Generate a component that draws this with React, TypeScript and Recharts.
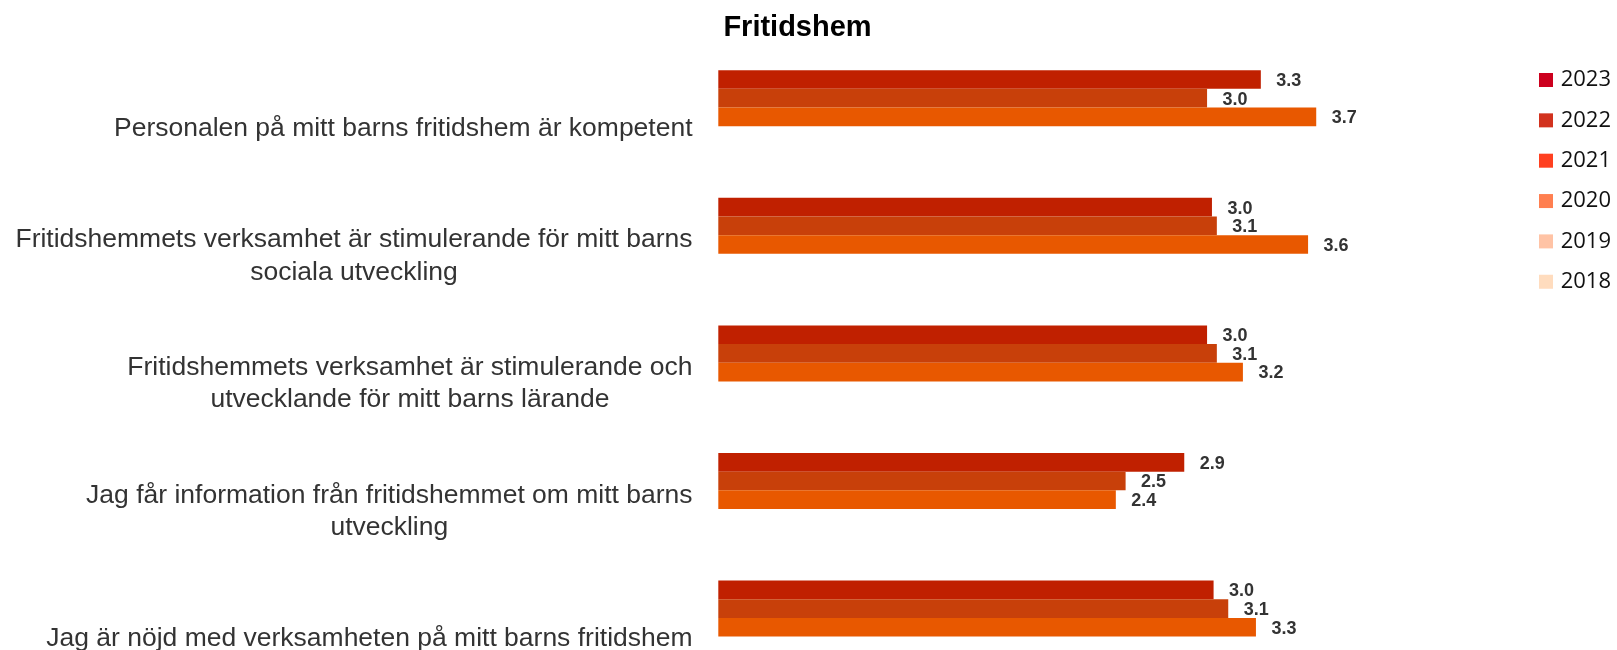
import React from 'react';
import { BarChart, Bar, XAxis, YAxis, LabelList } from 'recharts';

const TITLE = 'Fritidshem';
const CATEGORIES = [
  'Personalen på mitt barns fritidshem är kompetent',
  'Fritidshemmets verksamhet är stimulerande för mitt barns\nsociala utveckling',
  'Fritidshemmets verksamhet är stimulerande och\nutvecklande för mitt barns lärande',
  'Jag får information från fritidshemmet om mitt barns\nutveckling',
  'Jag är nöjd med verksamheten på mitt barns fritidshem',
];
const SERIES = ['2023', '2022', '2021', '2020', '2019', '2018'];
const V2023 = [3.33, 3.03, 3.0, 2.86, 3.04];
const V2022 = [3.0, 3.06, 3.06, 2.5, 3.13];
const V2021 = [3.67, 3.62, 3.22, 2.44, 3.3];
const V2020: (number | null)[] = [null, null, null, null, null];
const V2019: (number | null)[] = [null, null, null, null, null];
const V2018: (number | null)[] = [null, null, null, null, null];
const X_DOMAIN = [0, 4];

const BAR_COLORS = ['#C02000', '#C8400A', '#E85800', '#FF7F50', '#FFC0A0', '#FFD8B8'];
const LEGEND_COLORS = ['#CC001E', '#D2321E', '#FF4020', '#FF7F50', '#FFC3A5', '#FFDCBE'];

const VALUES = [V2023, V2022, V2021, V2020, V2019, V2018];
const data = CATEGORIES.map((name, i) => {
  const row: Record<string, any> = { name };
  SERIES.forEach((s, k) => {
    row[s] = VALUES[k][i];
  });
  return row;
});

const LABEL_SIZE = 26.5;
const LABEL_FONT = `${LABEL_SIZE}px "Liberation Sans"`;
const LABEL_RIGHT = 684.7;
let ctx: CanvasRenderingContext2D | null = null;
function measure(t: string): number {
  if (!ctx) {
    const c = document.createElement('canvas');
    ctx = c.getContext('2d');
  }
  if (!ctx) return t.length * 13;
  ctx.font = LABEL_FONT;
  return ctx.measureText(t).width;
}

function CategoryTick(props: any) {
  const { y, payload } = props;
  const lines = String(payload.value).split('\n');
  const maxW = Math.max(...lines.map(measure));
  const cx = LABEL_RIGHT - maxW / 2;
  const lh = 32.5;
  const first = y - ((lines.length - 1) * lh) / 2 + 10;
  return (
    <text
      textAnchor="middle"
      fontFamily="Liberation Sans, Arial, sans-serif"
      fontSize={LABEL_SIZE}
      fill="#333333"
    >
      {lines.map((l, i) => (
        <tspan key={i} x={cx} y={first + i * lh}>
          {l}
        </tspan>
      ))}
    </text>
  );
}

const fmt = (v: any) => (v == null ? '' : Number(v).toFixed(1));

export default function App() {
  return (
    <div
      style={{
        position: 'fixed',
        left: 8,
        top: 8,
        width: 1609,
        height: 642,
        overflow: 'hidden',
      }}
    >
      <BarChart
        width={1601}
        height={692.2}
        data={data}
        layout="vertical"
        margin={{ top: 54.2, right: 239, bottom: 0, left: 0 }}
        barGap={0}
        barSize={18.67}
      >
        <XAxis type="number" domain={X_DOMAIN} hide />
        <YAxis
          type="category"
          dataKey="name"
          width={710.3}
          axisLine={false}
          tickLine={false}
          tick={<CategoryTick />}
          interval={0}
        />
        {SERIES.map((s, k) => (
          <Bar key={s} dataKey={s} fill={BAR_COLORS[k]} barSize={18.67} isAnimationActive={false}>
            {k < 3 ? (
              <LabelList
                dataKey={s}
                position="right"
                offset={15.5}
                formatter={fmt}
                fill="#333333"
                fontSize={18}
                fontWeight="bold"
                fontFamily="Liberation Sans, Arial, sans-serif"
              />
            ) : null}
          </Bar>
        ))}
      </BarChart>
      <svg
        width={1609}
        height={642}
        style={{ position: 'absolute', left: 0, top: 0, pointerEvents: 'none' }}
      >
        <text
          x={789.5}
          y={27.7}
          textAnchor="middle"
          fontFamily="Liberation Sans, Arial, sans-serif"
          fontWeight="bold"
          fontSize={29}
          fill="#000000"
        >
          {TITLE}
        </text>
        {SERIES.map((s, i) => {
          const cy = 72 + i * 40.35;
          return (
            <g key={s}>
              <rect x={1531} y={cy - 7} width={14} height={14} fill={LEGEND_COLORS[i]} />
              <text
                x={1552.7}
                y={cy + 6.2}
                fontFamily="Open Sans, sans-serif"
                fontSize={22}
                fill="#111111"
              >
                {s}
              </text>
            </g>
          );
        })}
      </svg>
    </div>
  );
}
